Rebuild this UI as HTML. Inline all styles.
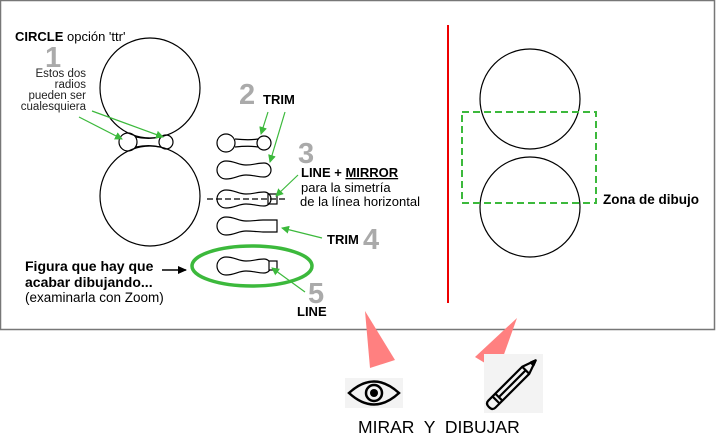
<!DOCTYPE html>
<html><head><meta charset="utf-8"><style>
html,body{margin:0;padding:0;background:#fff;}
svg{display:block;}
text{font-family:"Liberation Sans",sans-serif;}
.b{font-weight:bold;}
</style></head><body>
<svg width="716" height="446" viewBox="0 0 716 446" xmlns="http://www.w3.org/2000/svg">
<defs>
<marker id="ga" markerWidth="8" markerHeight="8" refX="7" refY="4" orient="auto" markerUnits="userSpaceOnUse"><path d="M0,0 L8,4 L0,8 Z" fill="#3cb93c"/></marker>
<marker id="ka" markerWidth="9" markerHeight="8" refX="8" refY="4" orient="auto" markerUnits="userSpaceOnUse"><path d="M0,0 L9,4 L0,8 Z" fill="#000"/></marker>
</defs>
<rect x="0.5" y="0.5" width="714" height="329" fill="#fff" stroke="#777" stroke-width="1.5"/>
<g fill="none" stroke="#000" stroke-width="1.2">
<circle cx="150" cy="88" r="50"/>
<circle cx="150" cy="196" r="50"/>
<circle cx="128" cy="142" r="9"/>
<circle cx="166" cy="142" r="7"/>
<path d="M136,137 C145,139 152,139 160,137 M136,147 C145,145 152,145 160,147"/>
<circle cx="530" cy="99" r="50"/>
<circle cx="530" cy="207" r="50"/>
<circle cx="226" cy="143" r="9"/><circle cx="264" cy="143" r="7"/>
<path d="M235,139 C245,140 252,140 258,139 M235,147 C245,146 252,146 258,147"/>
<path transform="translate(0,170)" d="M226,-9 C235,-9 238,-5 246,-5 C254,-5 257,-7 264,-7 A7,7 0 0 1 264,7 C257,7 254,5 246,5 C238,5 235,9 226,9 A9,9 0 0 1 226,-9Z"/>
<path transform="translate(0,199)" d="M226,-9 C235,-9 238,-5 246,-5 C254,-5 257,-7 264,-7 A7,7 0 0 1 264,7 C257,7 254,5 246,5 C238,5 235,9 226,9 A9,9 0 0 1 226,-9Z"/>
<rect x="268" y="194" width="9" height="10"/>
<path transform="translate(0,226)" d="M226,-9 C235,-9 238,-5 246,-5 C254,-5 258,-6 263,-6 L277,-6 L277,6 L263,6 C258,6 254,5 246,5 C238,5 235,9 226,9 A9,9 0 0 1 226,-9Z"/>
<path transform="translate(0,266)" d="M226,-9 C235,-9 238,-5 246,-5 C254,-5 257,-7 264,-7 A7,7 0 0 1 264,7 C257,7 254,5 246,5 C238,5 235,9 226,9 A9,9 0 0 1 226,-9Z"/>
<rect x="269" y="261" width="8" height="9" fill="#fff"/>
</g>
<line x1="207" y1="199" x2="287" y2="199" stroke="#000" stroke-width="1.2" stroke-dasharray="6,3"/>
<ellipse cx="252" cy="266" rx="60" ry="20" fill="none" stroke="#3cb93c" stroke-width="3.5"/>
<rect x="462" y="112" width="134" height="91" fill="none" stroke="#3cb93c" stroke-width="2" stroke-dasharray="7,4"/>
<line x1="448" y1="25" x2="448" y2="303" stroke="#e00" stroke-width="2"/>
<g stroke="#3cb93c" stroke-width="1.2" marker-end="url(#ga)">
<line x1="79" y1="117" x2="122" y2="139"/>
<line x1="92" y1="111" x2="163" y2="137"/>
<line x1="268" y1="112" x2="261" y2="134"/>
<line x1="285" y1="112" x2="270" y2="162"/>
<line x1="298" y1="175" x2="276" y2="196"/>
<line x1="322" y1="238" x2="282" y2="228"/>
<line x1="305" y1="292" x2="272" y2="268"/>
</g>
<line x1="162" y1="270" x2="186" y2="270" stroke="#000" stroke-width="1.5" marker-end="url(#ka)"/>
<g fill="#aaa" font-weight="bold" font-size="29">
<text x="45" y="67">1</text><text x="239" y="104">2</text><text x="298" y="163">3</text><text x="363" y="249">4</text><text x="308" y="303">5</text>
</g>
<text x="15" y="41" font-size="13"><tspan class="b">CIRCLE</tspan> opción 'ttr'</text>
<g font-size="11.5" text-anchor="end" style="font-family:'DejaVu Sans',sans-serif" fill="#222">
<text x="86" y="77">Estos dos</text><text x="86" y="88">radios</text><text x="86" y="99">pueden ser</text><text x="86" y="110">cualesquiera</text>
</g>
<text x="263" y="104" class="b" font-size="13">TRIM</text>
<text x="301" y="177" class="b" font-size="13">LINE + <tspan text-decoration="underline">MIRROR</tspan></text>
<text x="301" y="192" font-size="13">para la simetría</text>
<text x="300" y="206" font-size="13">de la línea horizontal</text>
<text x="327" y="244" class="b" font-size="13">TRIM</text>
<text x="297" y="316" class="b" font-size="13">LINE</text>
<text x="25" y="271" class="b" font-size="14">Figura que hay que</text>
<text x="25" y="287" class="b" font-size="14">acabar dibujando...</text>
<text x="25" y="302" font-size="13.5">(examinarla con Zoom)</text>
<text x="603" y="204" class="b" font-size="13.5">Zona de dibujo</text>
<polygon points="365,311 395,360 370,368" fill="#ff8080"/>
<polygon points="517,318 475,357 498,371" fill="#ff8080"/>
<rect x="345" y="378" width="58" height="30" fill="#f3f3f3"/>
<path d="M349,393 Q374,370 399,393 Q374,416 349,393 Z" fill="none" stroke="#000" stroke-width="2.5"/>
<circle cx="374" cy="393" r="8" fill="none" stroke="#000" stroke-width="2.5"/>
<circle cx="374" cy="393" r="4" fill="#000"/>
<rect x="484" y="354" width="59" height="59" fill="#f3f3f3"/>
<g transform="translate(513,383) rotate(-45)" fill="none" stroke="#000" stroke-width="2.2" stroke-linejoin="round">
<path d="M-30,-5 L18,-5 L32,0 L18,5 L-30,5 Q-34,5 -34,0 Q-34,-5 -30,-5 Z"/>
<line x1="-24" y1="-5" x2="-24" y2="5"/><line x1="-20" y1="-5" x2="-20" y2="5"/>
<line x1="18" y1="-5" x2="18" y2="5"/><line x1="-20" y1="0" x2="18" y2="0"/>
<path d="M27,-2 L32,0 L27,2Z" fill="#000"/>
</g>
<text x="358" y="433" font-size="17.5" fill="#000" xml:space="preserve">MIRAR  Y  DIBUJAR</text>
</svg>
</body></html>
